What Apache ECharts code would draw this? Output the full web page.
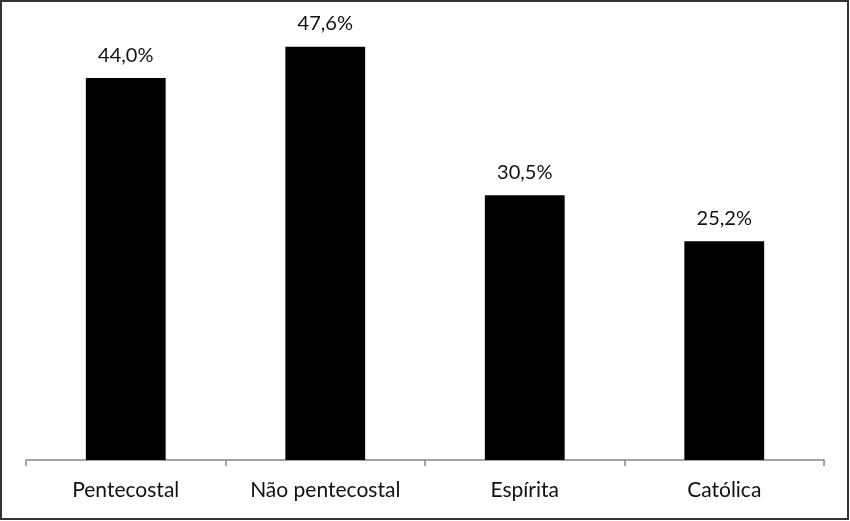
<!DOCTYPE html>
<html>
<head>
<meta charset="utf-8">
<script src="https://cdn.jsdelivr.net/npm/echarts@6/dist/echarts.min.js"></script>
<style>
html,body{margin:0;padding:0;background:#fff;}
#c{width:850px;height:521px;}
</style>
</head>
<body>
<div id="c"></div>
<script>
const categories = ['Pentecostal', 'Não pentecostal', 'Espírita', 'Católica'];
const values = [44.0, 47.6, 30.5, 25.2];

const chart = echarts.init(document.getElementById('c'));
chart.setOption({
  backgroundColor: '#fff',
  animation: false,
  grid: { left: 26, right: 26, top: 26, bottom: 61 },
  xAxis: {
    type: 'category',
    data: categories,
    axisLine: { lineStyle: { color: '#888', width: 1.5 } },
    axisTick: { show: true, length: 6, lineStyle: { color: '#888', width: 1.5 } },
    axisLabel: { color: '#111', fontFamily: 'Lato', fontSize: 21, margin: 20 }
  },
  yAxis: {
    type: 'value', min: 0, max: 50,
    show: false,
    splitLine: { show: false }
  },
  series: [{
    type: 'bar',
    data: values,
    barWidth: '40%',
    itemStyle: { color: '#000' },
    label: {
      show: true, position: 'top', distance: 13,
      color: '#111', fontFamily: 'Lato', fontSize: 20,
      formatter: p => p.value.toFixed(1).replace('.', ',') + '%'
    }
  }],
  graphic: [{
    type: 'rect',
    shape: { x: 1, y: 1, width: 847, height: 518 },
    style: { fill: 'none', stroke: '#333', lineWidth: 2 },
    silent: true
  }]
});
</script>
</body>
</html>
